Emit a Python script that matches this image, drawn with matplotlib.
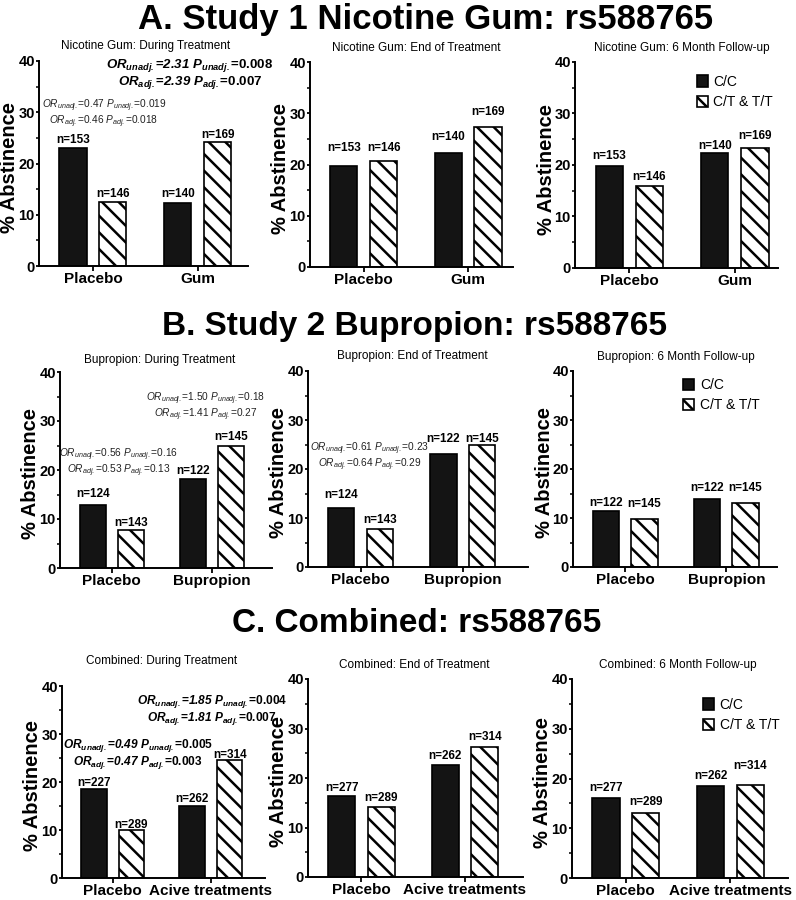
import matplotlib
matplotlib.use('Agg')
import matplotlib.pyplot as plt
import numpy as np

plt.rcParams['font.family'] = ['Liberation Sans', 'DejaVu Sans']
plt.rcParams['mathtext.fontset'] = 'custom'
plt.rcParams['mathtext.rm'] = 'Liberation Sans'
plt.rcParams['mathtext.it'] = 'Liberation Sans:italic'
plt.rcParams['mathtext.bf'] = 'Liberation Sans:bold'
plt.rcParams['mathtext.bfit'] = 'Liberation Sans:bold:italic'
plt.rcParams['hatch.linewidth'] = 1.8

# ---- data ----
row_titles = ['A. Study 1 Nicotine Gum: rs588765',
              'B. Study 2 Bupropion: rs588765',
              'C. Combined: rs588765']
groups = [['Placebo', 'Gum'], ['Placebo', 'Bupropion'], ['Placebo', 'Acive treatments']]
panel_titles = [
    'Nicotine Gum: During Treatment', 'Nicotine Gum: End of Treatment', 'Nicotine Gum: 6 Month Follow-up',
    'Bupropion: During Treatment', 'Bupropion: End of Treatment', 'Bupropion: 6 Month Follow-up',
    'Combined: During Treatment', 'Combined: End of Treatment', 'Combined: 6 Month Follow-up',
]
series = ['C/C', 'C/T & T/T']

# % abstinence, [placebo, active] per panel
cc_vals = [[23.0, 12.2], [19.8, 22.3], [19.8, 22.4],
           [12.9, 18.1], [12.1, 23.0], [11.4, 13.9],
           [18.5, 15.0], [16.4, 22.6], [16.0, 18.5]]
ct_vals = [[12.4, 24.2], [20.7, 27.3], [15.9, 23.3],
           [7.7, 24.9], [7.7, 25.0], [9.7, 13.1],
           [10.1, 24.5], [14.2, 26.2], [13.0, 18.6]]
cc_n = [[153, 140], [153, 140], [153, 140],
        [124, 122], [124, 122], [122, 122],
        [227, 262], [277, 262], [277, 262]]
ct_n = [[146, 169], [146, 169], [146, 169],
        [143, 145], [143, 145], [145, 145],
        [289, 314], [289, 314], [289, 314]]

# odds ratio annotations: panel, (OR unadj, P unadj), (OR adj, P adj), bold
or_notes = [
    (0, ('2.31', '0.008'), ('2.39', '0.007'), True),
    (0, ('0.47', '0.019'), ('0.46', '0.018'), False),
    (3, ('0.56', '0.16'), ('0.53', '0.13'), False),
    (3, ('1.50', '0.18'), ('1.41', '0.27'), False),
    (4, ('0.61', '0.23'), ('0.64', '0.29'), False),
    (6, ('0.49', '0.005'), ('0.47', '0.003'), True),
    (6, ('1.85', '0.004'), ('1.81', '0.007'), True),
]

# ---- layout (pixels) ----
W, H = 796, 900
# left spine x, right end x, y of 40, y of 0
axes_px = [(39, 248, 61, 266), (310, 513, 62, 267), (575, 778, 62, 268),
           (60, 272, 372, 568), (308, 528, 371, 567), (573, 777, 371, 567),
           (62, 265, 686, 878), (308, 523, 679, 877), (572, 788, 679, 878)]
xlim_right = [1.48, 1.43, 1.41, 1.6, 1.64, 1.50, 1.55, 1.56, 1.55]
sub_xy = [(146, 46), (416, 48), (682, 48),
          (160, 360), (412, 356), (676, 357),
          (162, 661), (414, 665), (678, 665)]
row_title_xy = [(426, 19, 25), (415, 327, 24), (417, 624, 24)]
# n-label offsets above bar tops (px)
cc_off = [[8, 9], [17.7, 16], [10, 7], [11, 8.7], [12.3, 15.7], [7.7, 11], [6, 7], [7.7, 8.7], [10, 10]]
ct_off = [[8.3, 6.7], [13, 15.3], [9.3, 11.7], [7.7, 8.7], [9, 6], [15.7, 15], [5, 5.3], [8.7, 10.7], [11, 19.3]]
# annotation (x data, y centre of the two lines, fontsize)
note_pos = [(0.926, 37.4, 9.5), (0.105, 29.7, 7.3),
            (0.074, 21.45, 7.3), (0.942, 32.95, 7.3),
            (0.092, 22.5, 7.3),
            (0.258, 25.8, 8.6), (1.011, 35.05, 8.6)]
legend_anchor = {2: (0.60, 0.937), 5: (0.54, 0.964), 8: (0.606, 0.905)}

fig = plt.figure(figsize=(W / 100, H / 100), dpi=100)
PX = 0.72  # px -> points at 100 dpi

axes = []
for i, (x0, x1, ytop, ybot) in enumerate(axes_px):
    ax = fig.add_axes([x0 / W, 1 - ybot / H, (x1 - x0) / W, (ybot - ytop) / H])
    axes.append(ax)
    x = np.arange(2)
    off, bw = 0.19, 0.26
    ax.bar(x - off, cc_vals[i], bw, color='#141414', edgecolor='black', linewidth=1.2, label=series[0])
    ax.bar(x + off, ct_vals[i], bw, color='white', edgecolor='black', linewidth=1.2,
           hatch='\\\\', label=series[1])
    for j in range(2):
        ax.annotate(f'n={cc_n[i][j]}', (x[j] - off, cc_vals[i][j]), xytext=(0, cc_off[i][j] * PX),
                    textcoords='offset points', ha='center', va='center', fontsize=8.5, fontweight='bold')
        ax.annotate(f'n={ct_n[i][j]}', (x[j] + off, ct_vals[i][j]), xytext=(0, ct_off[i][j] * PX),
                    textcoords='offset points', ha='center', va='center', fontsize=8.5, fontweight='bold')

    ax.set_xlim(-0.515, xlim_right[i])
    ax.set_ylim(0, 40)
    ax.set_yticks([0, 10, 20, 30, 40])
    ax.set_yticks([5, 15, 25, 35], minor=True)
    ax.set_yticklabels(['0', '10', '20', '30', '40'], fontsize=10.5, fontweight='bold')
    ax.set_xticks(x)
    ax.set_xticklabels(groups[i // 3], fontsize=11, fontweight='bold')
    ax.tick_params(axis='y', which='major', length=2.5, width=1.3, pad=0.5)
    ax.tick_params(axis='y', which='minor', length=2, width=1.1)
    ax.tick_params(axis='x', length=3.5, width=1.3, pad=1)
    for s in ['top', 'right']:
        ax.spines[s].set_visible(False)
    for s in ['left', 'bottom']:
        ax.spines[s].set_linewidth(1.4)
    ax.set_ylabel('% Abstinence', fontsize=14.5, fontweight='bold')
    ax.yaxis.set_label_coords(-19.5 / (x1 - x0), 0.48)

    sx, sy = sub_xy[i]
    fig.text(sx / W, 1 - sy / H, panel_titles[i], ha='center', va='center', fontsize=8.5)

    if i in legend_anchor:
        ax.legend(loc='upper left', bbox_to_anchor=legend_anchor[i], frameon=False, fontsize=10,
                  handlelength=0.8, handleheight=0.9, handletextpad=0.4, labelspacing=0.45,
                  borderpad=0, borderaxespad=0)


def or_line(kind, orv, pv, bold):
    f = r'\mathbfit' if bold else r'\mathit'
    return f'${f}{{OR_{{{kind}}}}}$=${f}{{{orv}\\ P_{{{kind}}}}}$={pv}'


for (p, un, ad, bold), (nx, yc, fs) in zip(or_notes, note_pos):
    ax = axes[p]
    txt = or_line('unadj.', un[0], un[1], bold) + '\n' + or_line('adj.', ad[0], ad[1], bold)
    ax.text(nx, yc, txt, ha='center', va='center', multialignment='center', fontsize=fs,
            linespacing=1.0, clip_on=False,
            fontweight='bold' if bold else 'normal', color='black' if bold else '#222222')

for t, (tx, ty, fs) in zip(row_titles, row_title_xy):
    fig.text(tx / W, 1 - ty / H, t, ha='center', va='center', fontsize=fs, fontweight='bold')

fig.savefig('out.png', dpi=100)
